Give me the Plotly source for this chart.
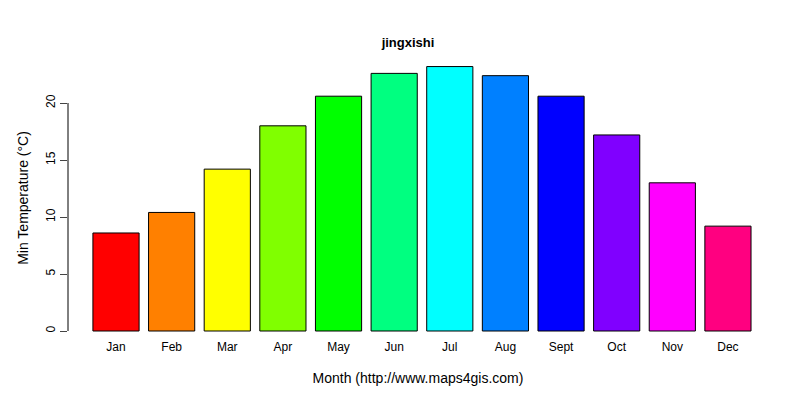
import plotly.graph_objects as go

months = ["Jan", "Feb", "Mar", "Apr", "May", "Jun", "Jul", "Aug", "Sept", "Oct", "Nov", "Dec"]
min_temp = [8.6, 10.4, 14.2, 18.0, 20.6, 22.6, 23.2, 22.4, 20.6, 17.2, 13.0, 9.2]
colours = ["#FF0000", "#FF8000", "#FFFF00", "#80FF00", "#00FF00", "#00FF80",
           "#00FFFF", "#0080FF", "#0000FF", "#8000FF", "#FF00FF", "#FF0080"]
y_ticks = [0, 5, 10, 15, 20]

fig = go.Figure(go.Bar(
    x=list(range(len(months))), y=min_temp,
    marker=dict(color=colours, line=dict(color="black", width=1)),
))
fig.add_shape(type="line", xref="paper", yref="y", x0=0, x1=0, y0=0, y1=20,
              line=dict(color="black", width=1))
fig.update_layout(
    width=800, height=400,
    title=dict(text="<b>jingxishi</b>", x=0.5, y=0.925, font=dict(size=13)),
    bargap=0.17, showlegend=False,
    plot_bgcolor="white", paper_bgcolor="white",
    font=dict(family="Liberation Sans, Arial, sans-serif", size=12, color="black"),
    margin=dict(l=60, r=40, t=50, b=70),
    xaxis=dict(range=[-0.863, 11.72], tickvals=list(range(len(months))), ticktext=months,
               showline=False, showgrid=False, zeroline=False, ticks="",
               title=dict(text="Month (http://www.maps4gis.com)", standoff=20)),
    yaxis=dict(range=[-0.614, 23.95], tickvals=y_ticks, ticks="outside", ticklen=7,
               tickangle=-90, showgrid=False, zeroline=False, showline=False,
               title=dict(text="Min Temperature (°C)", standoff=12)),
)
fig.write_html("out.html")
